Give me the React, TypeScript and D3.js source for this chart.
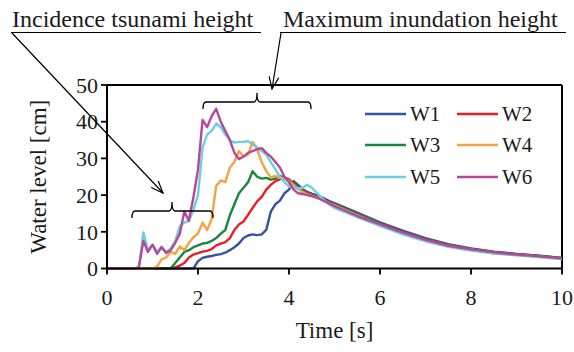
import React from 'react';
import * as d3 from 'd3';

const TIME = [0, 0.1, 0.2, 0.3, 0.4, 0.5, 0.6, 0.7, 0.8, 0.9, 1.0, 1.1, 1.2, 1.3, 1.4, 1.5, 1.6, 1.7, 1.8, 1.9,
  2.0, 2.1, 2.2, 2.3, 2.4, 2.5, 2.6, 2.7, 2.8, 2.9, 3.0, 3.1, 3.2, 3.3, 3.4, 3.5, 3.6, 3.7, 3.8, 3.9,
  4.0, 4.1, 4.2, 4.3, 4.4, 4.5, 4.6, 4.7, 4.8, 4.9, 5.0, 5.5, 6.0, 6.5, 7.0, 7.5, 8.0, 8.5, 9.0, 9.5, 10.0];

const W1 = [0, 0, 0, 0, 0, 0, 0, 0, 0, 0, 0, 0, 0, 0, 0, 0, 0, 0, 0, 0,
  2.0, 2.9, 3.2, 3.4, 3.7, 3.9, 4.3, 5.0, 5.8, 6.8,
  8.3, 9.0, 9.3, 9.1, 9.3, 10.5, 15.5, 17.5, 18.5, 20.5,
  21.5, 23.8, 22.8, 21.6, 20.9, 20.4, 20.0, 19.5, 18.9, 18.3, 17.8,
  15.2, 12.6, 10.3, 8.3, 6.6, 5.5, 4.6, 4.0, 3.5, 2.9];
const W2 = [0, 0, 0, 0, 0, 0, 0, 0, 0, 0, 0, 0, 0, 0, 0,
  0.3, 0.8, 1.5, 3.0, 3.8,
  4.2, 4.6, 4.8, 5.3, 6.3, 6.8, 7.2, 8.3, 10.5, 12.0,
  12.8, 14.6, 16.5, 18.3, 19.5, 21.5, 22.8, 23.8, 24.3, 24.8,
  24.3, 23.2, 22.2, 21.3, 20.6, 20.1, 19.7, 19.2, 18.6, 18.0, 17.5,
  14.9, 12.3, 10.0, 8.0, 6.4, 5.3, 4.5, 3.9, 3.4, 2.8];
const W3 = [0, 0, 0, 0, 0, 0, 0, 0, 0, 0, 0, 0, 0, 0, 0,
  1.5, 3.0, 4.5, 5.0, 5.8,
  6.3, 6.8, 7.0, 7.5, 8.3, 9.5, 10.5, 14.5, 17.5, 20.5,
  22.0, 23.5, 26.5, 25.0, 24.5, 24.7, 24.2, 24.5, 25.2, 24.8,
  24.0, 23.0, 22.0, 21.0, 20.5, 20.0, 19.6, 19.1, 18.5, 17.9, 17.4,
  14.8, 12.2, 9.9, 7.9, 6.3, 5.3, 4.4, 3.9, 3.4, 2.8];
const W4 = [0, 0, 0, 0, 0, 0, 0, 0, 0, 0, 0,
  0.5, 2.5, 3.0, 4.5, 4.0, 6.0, 5.0, 7.0, 8.5,
  9.5, 12.5, 10.5, 13.5, 22.5, 24.0, 23.5, 27.5, 29.0, 32.0,
  30.5, 31.0, 34.5, 32.5, 29.0, 26.5, 24.8, 25.2, 24.8, 24.5,
  23.8, 22.8, 21.7, 20.8, 20.2, 19.8, 19.4, 18.9, 18.3, 17.7, 17.2,
  14.5, 11.9, 9.6, 7.6, 6.1, 5.1, 4.2, 3.7, 3.2, 2.6];
const W5 = [0, 0, 0, 0, 0, 0, 0, 0.3,
  9.8, 5.0, 6.5,
  4.5, 6.0, 4.5, 5.5, 7.5, 11.5, 12.5, 13.0, 16.0,
  20, 33, 36.5, 37.5, 39.5, 38.5, 36.5, 35.0, 34.3, 34.5,
  34.5, 34.7, 33.8, 33.0, 32.0, 31.0, 29.0, 27.0, 25.0, 23.5,
  22.4, 22.0, 21.8, 22.0, 22.8, 22.0, 20.8, 19.5, 18.3, 17.3, 16.5,
  14.0, 11.6, 9.3, 7.4, 5.9, 4.9, 4.1, 3.6, 3.1, 2.6];
const W6 = [0, 0, 0, 0, 0, 0, 0, 0.3,
  7.5, 4.5, 6.5,
  4.0, 5.8, 4.2, 5.0, 7.0, 9.5, 15.5, 13.0, 19.5,
  27, 40.5, 38.5, 41.5, 43.5, 40, 37.5, 35, 31.5, 29.8,
  30.5, 31.5, 32, 32.5, 32.8, 31.5, 30.5, 29, 27.5, 25,
  23.5, 21.5, 20.5, 20.3, 20.0, 19.7, 19.3, 18.8, 18.2, 17.6, 17.0,
  14.3, 12.0, 9.8, 7.8, 6.2, 5.2, 4.4, 3.8, 3.3, 2.8];

const SERIES_NAMES = ['W1', 'W2', 'W3', 'W4', 'W5', 'W6'];
const SERIES_VALUES = [W1, W2, W3, W4, W5, W6];
const COLORS = ['#3153a5', '#ed1c24', '#16873f', '#f9a03f', '#6ccfdf', '#b5489b'];
const X_TICKS = [0, 2, 4, 6, 8, 10];
const Y_TICKS = [0, 10, 20, 30, 40, 50];

export default function App() {
  const left = 107, right = 562, top = 85, bottom = 268.5;
  const x = d3.scaleLinear().domain([0, 10]).range([left, right]);
  const y = d3.scaleLinear().domain([0, 50]).range([bottom, top]);
  const line = d3.line<[number, number]>().x(d => x(d[0])).y(d => y(d[1]));

  const legendRows = [114, 145, 177];
  const legendCols = [365, 457];

  const brace = (x0: number, x1: number, yy: number, xc: number) => {
    const h = 7, r = 3, b = 9;
    return `M${x0},${yy + h} Q${x0},${yy} ${x0 + r},${yy} L${xc - r},${yy} Q${xc},${yy} ${xc},${yy - b} Q${xc},${yy} ${xc + r},${yy} L${x1 - r},${yy} Q${x1},${yy} ${x1},${yy + h}`;
  };

  const arrowHead = (x0: number, y0: number, x1: number, y1: number) => {
    const ang = Math.atan2(y1 - y0, x1 - x0);
    const len = 13, spread = 0.38;
    const a1 = ang + Math.PI - spread, a2 = ang + Math.PI + spread;
    return `M${x1 + len * Math.cos(a1)},${y1 + len * Math.sin(a1)} L${x1},${y1} L${x1 + len * Math.cos(a2)},${y1 + len * Math.sin(a2)}`;
  };

  return (
    <svg width={574} height={352} style={{ position: 'absolute', left: 0, top: 0, background: '#fff' }}>
      <style>{`text { font-family: "Liberation Serif", serif !important; fill: #1a1a1a; }`}</style>
      {/* frame */}
      <line x1={left} x2={right} y1={top} y2={top} stroke="#000" strokeWidth={2} />
      <line x1={right} x2={right} y1={top} y2={bottom} stroke="#000" strokeWidth={2} />
      {/* series */}
      {SERIES_VALUES.map((vals, i) => (
        <path key={SERIES_NAMES[i]}
          d={line(TIME.map((t, k) => [t, vals[k]] as [number, number])) || ''}
          fill="none" stroke={COLORS[i]} strokeWidth={2.4} strokeLinejoin="round" />
      ))}
      {/* axes */}
      <line x1={left} x2={left} y1={top} y2={bottom + 1} stroke="#000" strokeWidth={2} />
      <line x1={left - 1} x2={right + 1} y1={bottom} y2={bottom} stroke="#000" strokeWidth={2} />
      {Y_TICKS.map(v => (
        <g key={'y' + v}>
          <line x1={left - 6} x2={left} y1={y(v)} y2={y(v)} stroke="#000" strokeWidth={1.8} />
          <text x={left - 9} y={y(v)} dy="0.35em" textAnchor="end" fontSize={22} fontFamily="Liberation Serif">{v}</text>
        </g>
      ))}
      {X_TICKS.map(v => (
        <g key={'x' + v}>
          <line x1={x(v)} x2={x(v)} y1={bottom} y2={bottom + 6} stroke="#000" strokeWidth={1.8} />
          <text x={x(v)} y={bottom + 36} textAnchor="middle" fontSize={22} fontFamily="Liberation Serif">{v}</text>
        </g>
      ))}
      <text x={(left + right) / 2} y={338} textAnchor="middle" fontSize={23} fontFamily="Liberation Serif">Time [s]</text>
      <text transform={`translate(46,${(top + bottom) / 2}) rotate(-90)`} textAnchor="middle" fontSize={23} fontFamily="Liberation Serif">Water level [cm]</text>
      {/* legend */}
      {SERIES_NAMES.map((n, i) => {
        const cx = legendCols[i % 2];
        const cy = legendRows[Math.floor(i / 2)];
        return (
          <g key={'lg' + n}>
            <line x1={cx} x2={cx + 41} y1={cy} y2={cy} stroke={COLORS[i]} strokeWidth={2.4} />
            <text x={cx + 45} y={cy} dy="0.35em" fontSize={21} fontFamily="Liberation Serif">{n}</text>
          </g>
        );
      })}
      {/* annotations */}
      <text x={12} y={27} fontSize={24} fontFamily="Liberation Serif">Incidence tsunami height</text>
      <line x1={11} x2={261} y1={32.5} y2={32.5} stroke="#000" strokeWidth={1.2} />
      <line x1={12} y1={33} x2={163} y2={193} stroke="#000" strokeWidth={1.2} />
      <path d={arrowHead(12, 33, 163, 193)} fill="none" stroke="#000" strokeWidth={1.2} />
      <text x={283} y={27} fontSize={24} fontFamily="Liberation Serif">Maximum inundation height</text>
      <line x1={280} x2={566} y1={32.5} y2={32.5} stroke="#000" strokeWidth={1.2} />
      <line x1={281} y1={33} x2={272} y2={89} stroke="#000" strokeWidth={1.2} />
      <path d={arrowHead(281, 33, 272, 89)} fill="none" stroke="#000" strokeWidth={1.2} />
      <path d={brace(132, 213, 211, 172)} fill="none" stroke="#000" strokeWidth={1.3} />
      <path d={brace(203, 311, 102, 257)} fill="none" stroke="#000" strokeWidth={1.3} />
    </svg>
  );
}
